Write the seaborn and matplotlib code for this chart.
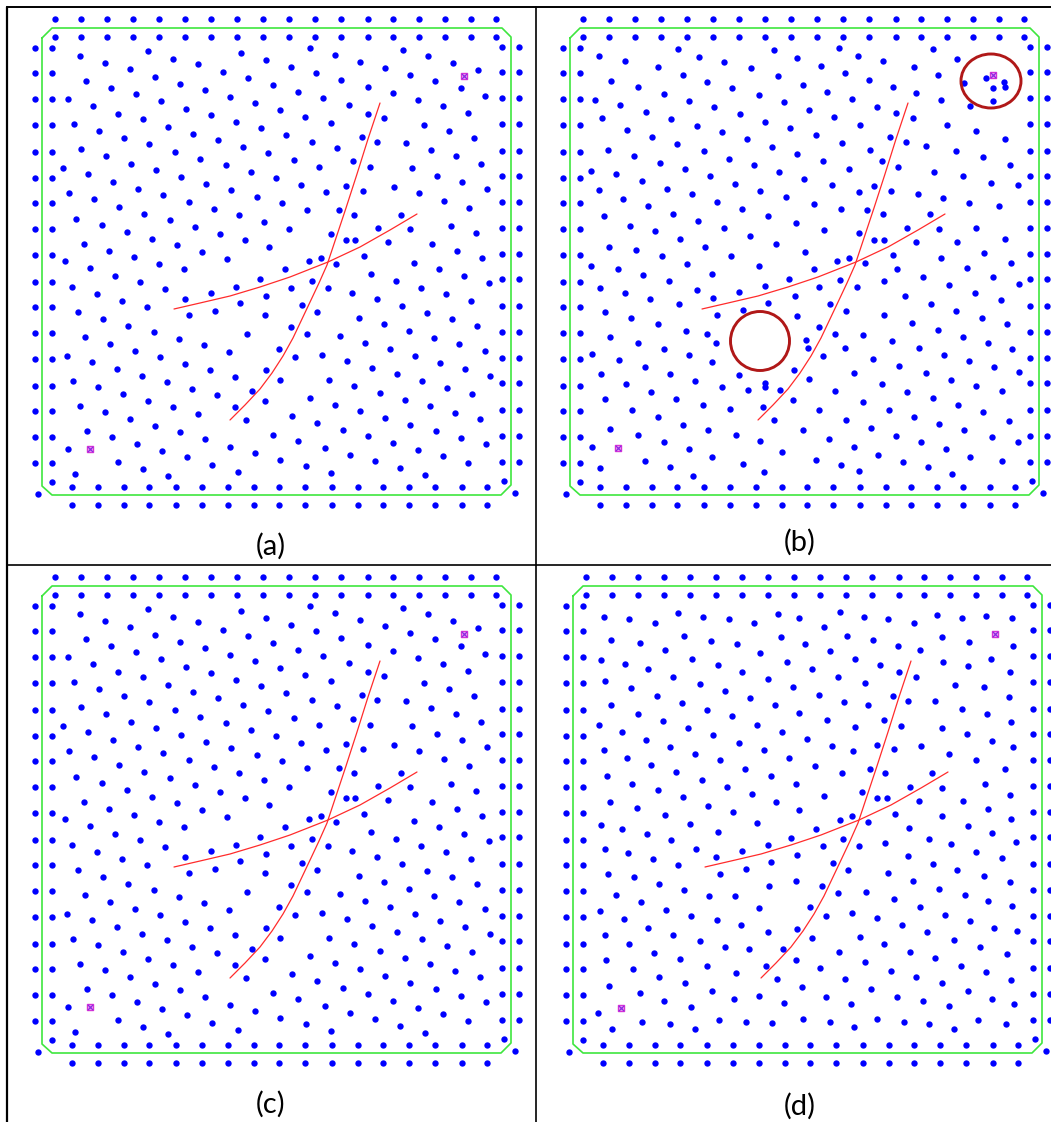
import numpy as np
import pandas as pd
import matplotlib
matplotlib.use("Agg")
import matplotlib.pyplot as plt
from matplotlib.lines import Line2D
from matplotlib.patches import Ellipse, Circle
import seaborn as sns

sns.set_theme(style="white")
plt.rcParams['font.family'] = ['Lato', 'DejaVu Sans']

# ---- peripheral pad ring (identical in every layout) ----
ring_top_x = [55, 81, 107, 133, 159, 185, 211, 237, 263, 289, 315, 341, 368, 393, 419, 445, 471, 496]
ring_top_y = [19, 37]
ring_left_y = [48, 73, 99, 125, 152, 178, 203, 229, 255, 282, 307, 333, 359, 386, 411, 437, 463]
ring_left_x = [35, 52]
ring_bottom_x = [72, 98, 124, 149, 176, 202, 228, 254, 279, 305, 332, 358, 383, 409, 435, 462, 487]
ring_bottom_y = [487, 505]
ring_right_y = [47, 72, 98, 124, 151, 176, 202, 228, 254, 279, 306, 332, 358, 383, 410, 436, 462]
ring_right_x = [502, 519]
ring_corners = [(52, 482), (38, 494), (504, 481), (515, 493)]

# ---- keep-out outline (chamfered square) ----
keepout_x = [42, 52, 502, 511, 511, 501, 52, 42, 42]
keepout_y = [38, 28, 28, 37, 485, 495, 495, 486, 38]

# ---- routed traces ----
trace1_x = [174, 200, 230, 260, 290, 328, 360, 390, 417]
trace1_y = [309, 303, 296, 287, 277, 262, 247, 230, 214]
trace2_x = [230, 245, 260, 272, 283, 293, 302, 311, 319, 327, 336, 346, 357, 368, 380]
trace2_y = [420, 405, 389, 373, 356, 338, 319, 300, 283, 265, 238, 208, 174, 139, 103]

# ---- interior vias, layout (a) / (c) ----
vias_a = [
    (80, 56), (105, 63), (130, 69), (155, 77), (180, 84), (205, 90), (230, 97), (255, 103),
    (148, 51), (173, 59), (198, 64), (223, 72), (248, 78), (241, 53), (266, 60),
    (86, 81), (111, 88), (136, 94), (161, 101), (186, 109), (211, 115), (236, 122), (261, 128),
    (68, 99), (93, 106), (118, 114), (143, 119), (168, 127), (193, 134), (218, 140), (243, 147), (268, 153),
    (74, 124), (99, 131), (124, 138), (149, 144), (175, 152), (200, 159), (226, 165), (251, 172),
    (81, 149), (106, 156), (131, 164), (156, 170), (181, 177), (206, 184), (231, 190), (257, 197),
    (63, 168), (88, 174), (113, 182), (138, 189), (163, 195), (189, 202), (214, 209), (239, 215), (264, 222),
    (69, 193), (94, 199), (119, 207), (144, 214), (170, 220), (195, 227), (220, 234), (245, 240), (269, 247),
    (76, 219), (102, 225), (127, 232), (152, 239), (177, 245), (202, 252), (227, 259),
    (84, 244), (109, 251), (134, 257), (159, 264), (184, 269), (65, 261), (90, 268),
    (310, 48), (335, 55), (360, 62), (385, 68), (410, 75), (435, 81), (461, 88), (485, 96),
    (403, 50), (428, 56), (453, 63), (478, 70),
    (291, 67), (316, 73), (341, 80), (368, 87), (393, 93), (418, 100), (443, 106), (468, 113),
    (273, 85), (298, 92), (323, 98), (349, 105), (368, 114), (384, 118), (424, 125), (449, 131), (474, 138),
    (280, 110), (305, 117), (331, 123), (362, 137), (377, 142), (406, 143), (431, 150), (456, 156), (481, 164),
    (286, 135), (312, 142), (337, 148), (353, 161), (370, 167), (412, 168), (437, 176), (462, 182), (487, 189),
    (294, 160), (319, 167), (346, 186), (363, 191), (394, 187), (419, 193), (444, 201), (469, 208),
    (276, 178), (301, 185), (326, 192), (339, 210), (354, 215), (401, 215), (410, 229), (451, 226), (476, 233),
    (282, 203), (307, 210), (331, 234), (346, 240), (355, 240), (378, 228), (388, 242), (432, 244), (457, 251), (482, 258),
    (289, 229), (309, 261), (321, 258), (336, 264), (364, 256), (414, 263), (439, 269), (285, 269),
    (115, 276), (140, 282), (72, 287), (165, 289), (97, 294), (122, 301), (147, 307), (78, 312), (103, 319), (128, 326), (154, 332),
    (85, 337), (110, 344), (135, 351), (160, 357), (185, 364), (67, 356), (92, 362), (117, 369), (142, 376), (167, 382), (192, 389), (217, 395),
    (73, 381), (98, 387), (123, 394), (148, 401), (173, 407), (198, 414), (80, 406), (105, 412), (130, 419), (155, 426), (180, 432), (205, 439),
    (87, 431), (112, 437), (137, 444), (162, 451), (187, 457), (212, 465), (68, 449), (75, 474), (118, 462), (143, 469), (168, 476),
    (238, 472), (230, 447), (255, 453), (185, 299), (211, 293), (236, 287), (260, 279), (189, 315), (215, 311), (240, 303), (266, 296), (265, 315),
    (179, 339), (204, 345), (229, 352), (247, 334), (210, 370), (235, 377), (266, 370), (252, 391), (265, 401), (235, 407), (246, 420),
    (371, 274), (396, 281), (464, 276), (489, 283), (312, 281), (291, 288), (328, 288), (352, 293), (377, 299), (421, 288), (446, 294), (471, 301),
    (302, 305), (317, 312), (359, 318), (384, 324), (402, 306), (427, 313), (452, 319), (477, 326),
    (291, 327), (307, 334), (340, 336), (365, 343), (390, 349), (409, 331), (434, 338), (459, 344), (485, 351),
    (279, 349), (295, 357), (322, 355), (347, 361), (372, 368), (397, 374), (415, 356), (440, 363), (465, 369), (490, 376),
    (280, 380), (329, 380), (354, 386), (380, 393), (405, 400), (422, 381), (447, 388), (472, 394),
    (310, 398), (335, 405), (360, 411), (385, 418), (410, 425), (430, 406), (455, 413), (480, 419),
    (292, 416), (317, 423), (343, 430), (368, 436), (393, 443), (418, 450), (436, 431), (461, 438), (486, 444),
    (273, 435), (298, 441), (325, 448), (350, 455), (375, 461), (400, 468), (425, 475), (443, 456), (468, 463),
    (280, 460), (306, 466), (331, 473),
]

# ---- interior vias, layout (b) ----
vias_b = [
    (71, 56), (97, 61), (130, 67), (150, 49), (171, 57), (196, 62), (223, 68), (246, 50), (269, 58),
    (83, 81), (110, 87), (136, 94), (155, 75), (179, 82), (204, 88), (231, 95), (250, 76),
    (67, 100), (92, 105), (118, 112), (143, 119), (161, 101), (186, 107), (212, 114), (237, 122), (256, 102),
    (74, 118), (99, 130), (124, 137), (149, 144), (169, 126), (194, 132), (219, 139), (244, 147), (262, 128),
    (80, 150), (106, 156), (132, 163), (157, 169), (176, 151), (201, 159), (226, 165), (251, 172), (269, 154),
    (63, 171), (88, 174), (114, 181), (139, 189), (164, 194), (182, 176), (207, 184), (232, 191), (258, 197),
    (71, 190), (95, 199), (120, 206), (145, 214), (170, 221), (189, 202), (214, 209), (240, 216), (268, 223),
    (76, 216), (102, 226), (127, 231), (152, 239), (177, 247), (196, 228), (222, 236), (248, 244),
    (81, 247), (108, 250), (134, 256), (159, 264), (203, 256), (231, 266), (63, 266), (90, 269),
    (311, 48), (330, 56), (355, 61), (386, 67), (405, 49), (429, 59),
    (293, 66), (317, 73), (341, 80), (365, 87), (388, 93), (410, 75), (413, 100), (436, 83), (458, 78), (476, 82),
    (477, 87), (465, 88), (465, 101), (442, 106),
    (275, 85), (299, 92), (324, 99), (349, 107), (368, 113), (385, 118), (419, 125), (448, 131), (477, 139),
    (281, 110), (306, 117), (332, 125), (362, 137), (378, 142), (398, 146), (428, 151), (455, 157), (482, 165),
    (288, 135), (314, 143), (342, 150), (354, 161), (370, 167), (406, 172), (435, 176), (463, 183), (490, 185),
    (295, 161), (321, 169), (346, 186), (363, 191), (390, 194), (415, 198), (441, 203), (471, 206),
    (276, 179), (304, 185), (331, 192), (339, 210), (355, 214), (402, 214), (411, 229), (448, 228), (477, 239),
    (286, 204), (313, 209), (331, 233), (346, 240), (356, 240), (379, 228), (388, 242), (429, 242), (456, 253), (483, 263),
    (296, 230), (277, 252), (309, 261), (321, 258), (337, 263), (365, 255), (413, 258), (439, 268), (369, 269), (286, 269),
    (115, 275), (141, 281), (72, 288), (97, 293), (122, 299), (151, 304), (169, 290), (184, 274),
    (77, 312), (103, 318), (130, 324), (158, 331), (179, 334), (188, 343), (185, 298), (211, 292), (237, 286), (261, 279),
    (189, 315), (215, 310), (240, 303), (267, 296), (269, 316),
    (82, 337), (110, 343), (136, 349), (161, 355), (184, 362),
    (64, 354), (91, 360), (117, 367), (142, 374), (167, 381), (194, 387), (211, 375), (220, 390), (237, 383), (237, 387),
    (252, 390), (266, 370), (265, 400),
    (73, 374), (98, 384), (123, 392), (148, 399), (175, 405), (202, 409), (235, 407), (246, 420),
    (77, 399), (104, 410), (130, 417), (155, 425), (180, 430), (208, 435), (232, 441), (254, 452),
    (82, 429), (110, 435), (136, 442), (161, 449), (184, 457),
    (64, 447), (72, 468), (117, 461), (142, 467), (165, 476), (215, 464), (236, 472),
    (395, 277), (465, 277), (491, 284), (312, 280), (291, 287), (329, 287), (356, 281), (377, 296), (421, 285), (447, 293), (473, 300),
    (302, 304), (318, 311), (356, 315), (384, 323), (403, 304), (428, 311), (454, 318), (479, 324),
    (291, 327), (307, 334), (335, 335), (364, 341), (391, 348), (410, 330), (435, 337), (460, 343), (484, 349),
    (278, 340), (280, 348), (295, 356), (317, 348), (345, 359), (371, 366), (398, 373), (416, 355), (441, 361), (466, 367), (491, 372),
    (281, 379), (326, 373), (354, 384), (379, 392), (405, 398), (423, 380), (448, 386), (474, 391),
    (307, 391), (335, 402), (361, 410), (386, 417), (411, 424), (430, 405), (455, 412), (481, 421),
    (291, 410), (318, 420), (343, 428), (368, 436), (393, 442), (418, 449), (436, 430), (464, 437), (490, 442),
    (275, 430), (301, 439), (326, 447), (350, 455), (375, 462), (400, 467), (424, 474), (442, 457), (474, 461),
    (288, 460), (313, 465), (331, 471),
]

# ---- interior vias, layout (d) ----
vias_d = [
    (73, 59), (98, 61), (124, 65), (147, 55), (172, 59), (198, 61), (223, 65), (247, 56), (268, 60),
    (80, 82), (109, 85), (134, 92), (153, 78), (180, 83), (206, 86), (229, 95), (250, 79),
    (70, 102), (94, 106), (117, 111), (142, 119), (161, 101), (187, 107), (211, 114), (237, 121), (256, 104),
    (74, 123), (100, 130), (126, 138), (151, 145), (169, 126), (194, 133), (219, 140), (244, 147), (262, 129),
    (80, 147), (107, 156), (132, 163), (157, 170), (176, 152), (201, 158), (226, 167), (251, 174), (268, 155),
    (68, 167), (91, 174), (115, 182), (139, 189), (164, 196), (182, 177), (208, 185), (233, 192), (258, 200),
    (73, 192), (96, 200), (120, 207), (145, 214), (171, 222), (189, 202), (214, 211), (240, 218), (265, 226),
    (76, 218), (101, 226), (127, 232), (152, 239), (177, 248), (196, 229), (221, 236), (245, 244),
    (79, 244), (106, 250), (134, 257), (159, 266), (202, 254), (226, 265), (268, 252),
    (70, 267), (91, 271), (116, 276), (187, 274),
    (74, 291), (97, 295), (122, 301), (147, 307), (140, 282), (165, 291), (185, 299), (211, 293), (237, 287), (260, 280),
    (189, 316), (215, 311), (240, 304), (266, 297), (265, 323),
    (77, 316), (103, 319), (128, 326), (153, 332), (178, 338), (204, 338), (238, 328), (228, 350),
    (85, 337), (110, 344), (135, 352), (160, 358), (186, 362), (210, 367), (237, 374), (266, 371),
    (69, 353), (93, 361), (117, 370), (142, 377), (169, 383), (194, 389), (218, 391), (252, 391), (265, 402),
    (74, 377), (98, 386), (123, 395), (149, 401), (176, 408), (205, 415), (235, 408), (246, 421),
    (75, 402), (102, 411), (128, 419), (154, 425), (181, 433), (203, 441), (228, 438), (253, 445),
    (78, 428), (109, 435), (133, 443), (160, 449), (188, 462), (215, 464), (241, 465),
    (67, 455), (81, 471), (111, 464), (139, 466), (164, 471),
    (309, 54), (333, 59), (357, 61), (383, 65), (406, 57), (431, 60), (455, 58), (481, 60),
    (293, 69), (316, 78), (342, 82), (367, 88), (389, 92), (411, 79), (438, 84), (482, 88),
    (274, 86), (299, 93), (324, 101), (349, 107), (368, 114), (385, 119), (412, 104), (437, 108), (460, 101), (479, 114),
    (281, 111), (307, 119), (334, 125), (362, 138), (377, 143), (404, 143), (424, 127), (453, 129), (478, 139),
    (288, 137), (313, 144), (337, 147), (353, 162), (370, 168), (411, 170), (431, 151), (456, 156), (480, 164),
    (296, 162), (324, 169), (346, 187), (363, 191), (390, 188), (418, 196), (436, 176), (461, 183), (482, 189),
    (276, 181), (301, 188), (322, 193),
    (284, 208), (311, 215), (339, 211), (354, 215), (401, 215), (411, 230), (445, 202), (474, 211),
    (293, 238), (331, 234), (346, 240), (356, 240), (379, 229), (388, 243), (432, 243), (454, 226), (479, 237),
    (285, 271), (309, 262), (321, 258), (337, 264), (364, 256), (378, 270), (411, 258), (437, 268), (457, 251), (461, 275), (480, 261),
    (312, 281), (292, 288), (328, 288), (354, 285), (398, 281), (420, 286), (445, 294), (485, 284), (377, 298), (471, 300),
    (302, 305), (317, 312), (357, 315), (402, 306), (426, 312), (453, 318), (479, 324),
    (291, 328), (307, 335), (335, 334), (382, 323), (363, 341), (408, 331), (434, 337), (457, 343), (481, 348),
    (279, 349), (295, 358), (321, 355), (346, 360), (371, 367), (389, 349), (414, 357), (439, 363), (463, 370), (486, 373),
    (281, 380), (329, 379), (353, 386), (379, 394), (396, 374), (423, 382), (449, 389), (476, 396),
    (308, 394), (334, 404), (360, 413), (385, 419), (404, 400), (430, 408), (455, 414), (480, 422),
    (289, 410), (314, 421), (340, 431), (366, 439), (392, 443), (411, 425), (437, 433), (461, 441), (483, 446),
    (271, 429), (295, 439), (320, 446), (346, 461), (373, 464), (398, 466), (418, 448), (423, 471), (447, 462), (475, 466),
    (272, 461), (299, 464), (323, 469),
]

# ---- reference (fiducial) marks ----
fiducials_a = [(464, 76), (90, 449)]
fiducials_b = [(465, 75), (90, 448)]
fiducials_d = [(464, 76), (90, 450)]

# ---- highlighted regions in layout (b): cluster ring and empty pocket ----
cluster_ring = dict(xy=(463, 81), width=60, height=54)
pocket_ring = dict(xy=(232, 341), diameter=59)

# ---- page geometry (pixels) ----
W, H = 1051, 1122
panels = {
    "a": dict(x0=0, y0=0, w=528, h=558, vias=vias_a, fid=fiducials_a, label_xy=(271, 546)),
    "b": dict(x0=528, y0=0, w=523, h=558, vias=vias_b, fid=fiducials_b, label_xy=(800, 542)),
    "c": dict(x0=0, y0=558, w=528, h=564, vias=vias_a, fid=fiducials_a, label_xy=(271, 1104)),
    "d": dict(x0=531, y0=558, w=520, h=564, vias=vias_d, fid=fiducials_d, label_xy=(800, 1106)),
}


def ring_points():
    pts = []
    for y in ring_top_y:
        pts += [(x, y) for x in ring_top_x]
    for x in ring_left_x:
        pts += [(x, y) for y in ring_left_y]
    for y in ring_bottom_y:
        pts += [(x, y) for x in ring_bottom_x]
    for x in ring_right_x:
        pts += [(x, y) for y in ring_right_y]
    pts += ring_corners
    return pts


fig = plt.figure(figsize=(W / 100, H / 100), dpi=100)
fig.patch.set_facecolor("white")

for key, p in panels.items():
    rect = [p["x0"] / W, 1 - (p["y0"] + p["h"]) / H, p["w"] / W, p["h"] / H]
    ax = fig.add_axes(rect)
    ax.set_xlim(0, p["w"])
    ax.set_ylim(p["h"], 0)
    ax.set_axis_off()

    ax.plot(keepout_x, keepout_y, color="#3ee63e", lw=1.2, zorder=1)
    sns.lineplot(x=trace1_x, y=trace1_y, sort=False, estimator=None, ax=ax,
                 color="#ff2b2b", lw=0.9, zorder=2)
    sns.lineplot(x=trace2_x, y=trace2_y, sort=False, estimator=None, ax=ax,
                 color="#ff2b2b", lw=0.9, zorder=2)

    df = pd.DataFrame(ring_points() + p["vias"], columns=["x", "y"])
    sns.scatterplot(data=df, x="x", y="y", ax=ax, color="#0000ff", s=21,
                    linewidth=0, zorder=3, legend=False)

    fid = pd.DataFrame(p["fid"], columns=["x", "y"])
    sns.scatterplot(data=fid, x="x", y="y", ax=ax, marker="s", s=22,
                    facecolor="#f2a6f2", edgecolor="#d633d6", linewidth=1.0, zorder=4)
    sns.scatterplot(data=fid, x="x", y="y", ax=ax, marker="x", s=14,
                    color="#8a2be2", linewidth=0.9, zorder=4)

    if key == "b":
        ax.add_patch(Ellipse(cluster_ring["xy"], cluster_ring["width"], cluster_ring["height"],
                             fill=False, edgecolor="#b01818", lw=2.1, zorder=5))
        ax.add_patch(Circle(pocket_ring["xy"], pocket_ring["diameter"] / 2,
                            fill=False, edgecolor="#b01818", lw=2.1, zorder=5))
    ax.set_xlabel("")
    ax.set_ylabel("")

    lx, ly = p["label_xy"]
    fig.text(lx / W, 1 - ly / H, f"({key})", ha="center", va="center",
             fontsize=21, color="black")

# table grid lines around the four layouts
grid_lines = [
    ((7, 7), (7, 1122), 1.6),
    ((7, 7), (1051, 7), 1.4),
    ((536, 7), (536, 1122), 1.2),
    ((7, 565), (1051, 565), 1.2),
]
for (xa, ya), (xb, yb), lw in grid_lines:
    fig.add_artist(Line2D([xa / W, xb / W], [1 - ya / H, 1 - yb / H],
                          transform=fig.transFigure, color="black", lw=lw))

fig.savefig("out.png", dpi=100, facecolor="white")
